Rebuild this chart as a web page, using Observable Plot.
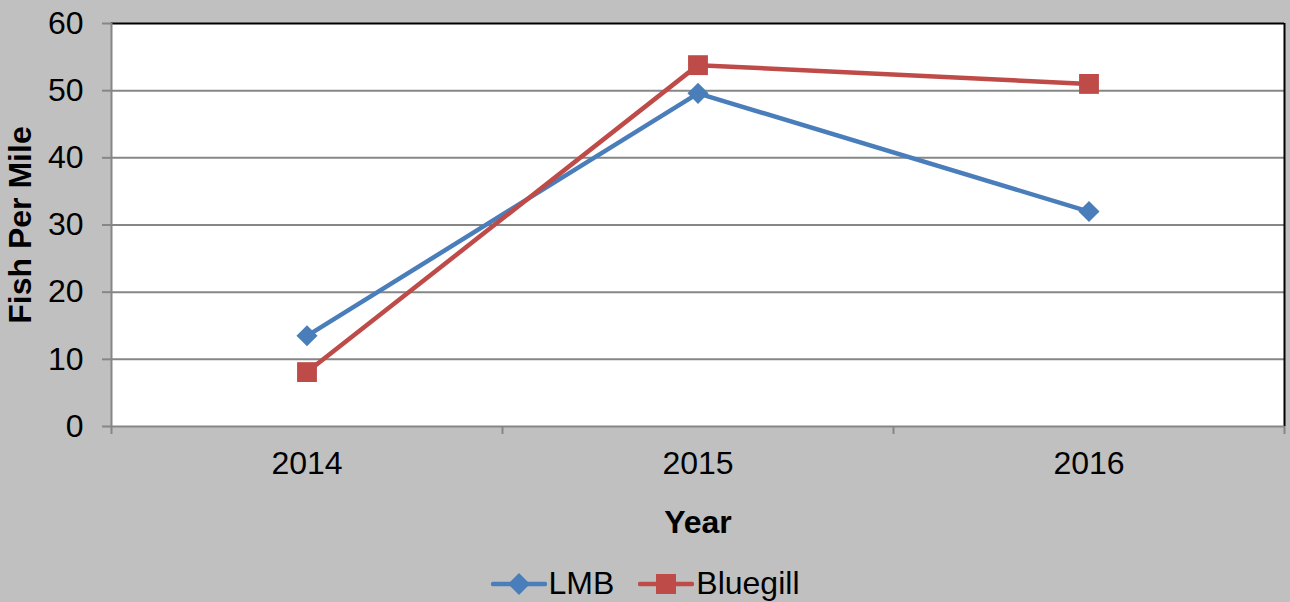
<!DOCTYPE html>
<html>
<head>
<meta charset="utf-8">
<script src="https://cdn.jsdelivr.net/npm/d3@7"></script>
<script src="https://cdn.jsdelivr.net/npm/@observablehq/plot@0.6"></script>
<style>
  html, body { margin: 0; padding: 0; background: #c0c0c0; }
  body { width: 1290px; height: 602px; overflow: hidden; font-family: "Liberation Sans", Arial, sans-serif; }
  #legend { height: 47px; display: flex; justify-content: center; align-items: center; gap: 24px; font-size: 32px; color: #000; padding-top: 10px; box-sizing: border-box; }
  #legend .item { display: flex; align-items: center; gap: 2px; }
</style>
</head>
<body>
<div id="chart"></div>
<div id="legend"></div>
<script>
const years = [2014, 2015, 2016];
const lmb = [13.5, 49.6, 32.0];
const bluegill = [8.1, 53.8, 51.0];
const seriesNames = ["LMB", "Bluegill"];
const seriesColors = ["#4a7ebb", "#be4b48"];
const seriesSymbols = ["diamond2", "square"];
const yTicks = [0, 10, 20, 30, 40, 50, 60];

const data = [
  ...years.map((yr, i) => ({series: "LMB", year: yr, value: lmb[i]})),
  ...years.map((yr, i) => ({series: "Bluegill", year: yr, value: bluegill[i]}))
];
const lmbData = data.filter(d => d.series === "LMB");
const bgData = data.filter(d => d.series === "Bluegill");
const xMin = years[0] - 0.5, xMax = years[years.length - 1] + 0.5;
const boundaries = d3.range(years.length + 1).map(i => xMin + i);

const chart = Plot.plot({
  width: 1290,
  height: 555,
  marginLeft: 111,
  marginRight: 6,
  marginTop: 23,
  marginBottom: 129,
  style: {background: "#c0c0c0", fontFamily: "'Liberation Sans', Arial, sans-serif"},
  x: {domain: [xMin, xMax]},
  y: {domain: [0, 60]},
  marks: [
    Plot.frame({fill: "white", stroke: "none"}),
    Plot.ruleY(yTicks.slice(1, -1), {stroke: "#868686", strokeWidth: 2}),
    Plot.ruleY([yTicks[yTicks.length - 1]], {stroke: "#000", strokeWidth: 2}),
    Plot.ruleX([xMax], {stroke: "#000", strokeWidth: 2}),
    Plot.ruleY([0], {stroke: "#868686", strokeWidth: 2}),
    Plot.ruleX([xMin], {stroke: "#868686", strokeWidth: 2}),
    Plot.axisY({ticks: yTicks, tickSize: 9, tickPadding: 19, stroke: "#868686", strokeWidth: 2, fill: "#000", fontSize: 32,
      label: "Fish Per Mile", labelAnchor: "center", labelOffset: 103, labelArrow: "none"}),
    Plot.axisX({ticks: boundaries, tickSize: 8, tickFormat: () => "", stroke: "#868686", strokeWidth: 2, label: null}),
    Plot.axisX({ticks: years, tickSize: 0, tickPadding: 25, tickFormat: d => String(d), fill: "#000", fontSize: 32,
      label: "Year", labelAnchor: "center", labelOffset: 106, labelArrow: "none"}),
    Plot.line(lmbData, {x: "year", y: "value", stroke: seriesColors[0], strokeWidth: 4.5}),
    Plot.dot(lmbData, {x: "year", y: "value", symbol: seriesSymbols[0], r: 9.5, fill: seriesColors[0], stroke: "none"}),
    Plot.line(bgData, {x: "year", y: "value", stroke: seriesColors[1], strokeWidth: 4.5}),
    Plot.dot(bgData, {x: "year", y: "value", symbol: seriesSymbols[1], r: 11.2, fill: seriesColors[1], stroke: "none"})
  ]
});
// bold axis labels
chart.querySelectorAll("g[aria-label='x-axis label'] text, g[aria-label='y-axis label'] text").forEach(t => t.setAttribute("font-weight", "bold"));
document.getElementById("chart").appendChild(chart);

const legend = document.getElementById("legend");
seriesNames.forEach((name, i) => {
  const item = document.createElement("div");
  item.className = "item";
  const sw = d3.create("svg").attr("width", 56).attr("height", 24);
  sw.append("line").attr("x1", 2).attr("x2", 54).attr("y1", 12).attr("y2", 12)
    .attr("stroke", seriesColors[i]).attr("stroke-width", 4.5).attr("stroke-linecap", "round");
  if (seriesSymbols[i] === "square") {
    sw.append("rect").attr("x", 18).attr("y", 2).attr("width", 20).attr("height", 20).attr("fill", seriesColors[i]);
  } else {
    sw.append("path").attr("d", "M28,1L39,12L28,23L17,12Z").attr("fill", seriesColors[i]);
  }
  item.appendChild(sw.node());
  const label = document.createElement("span");
  label.textContent = name;
  item.appendChild(label);
  legend.appendChild(item);
});
</script>
</body>
</html>
